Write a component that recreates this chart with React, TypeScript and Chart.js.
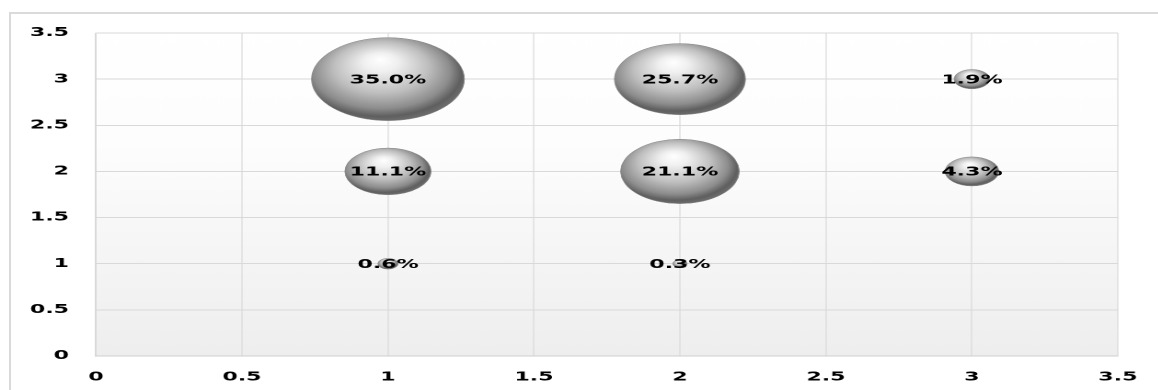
import React, { useEffect, useRef } from "react";
import { Chart, registerables } from "chart.js";

Chart.register(...registerables);

// ---- data ----
const xValues = [1, 2, 3, 1, 2, 3, 1, 2];
const yValues = [3, 3, 3, 2, 2, 2, 1, 1];
const shares = [35.0, 25.7, 1.9, 11.1, 21.1, 4.3, 0.6, 0.3];
const xTicks = [0, 0.5, 1, 1.5, 2, 2.5, 3, 3.5];
const yTicks = [0, 0.5, 1, 1.5, 2, 2.5, 3, 3.5];

// ---- layout / style constants ----
const STRETCH = 1.84;
const W = 1158 / STRETCH;
const H = 390;
const R_MAX = 41.5;
const FONT_FAMILY = '"DejaVu Sans", Verdana, sans-serif';

export default function App() {
  const canvasRef = useRef<HTMLCanvasElement | null>(null);

  useEffect(() => {
    const canvas = canvasRef.current;
    if (!canvas) return;
    const maxShare = Math.max(...shares);
    const points = shares.map((v, i) => ({
      x: xValues[i],
      y: yValues[i],
      r: R_MAX * Math.sqrt(v / maxShare),
      v,
    }));

    const plotBg = {
      id: "plotBg",
      beforeDraw(chart: any) {
        const { ctx, chartArea } = chart;
        if (!chartArea) return;
        const g = ctx.createLinearGradient(0, chartArea.top, 0, chartArea.bottom);
        g.addColorStop(0, "#ffffff");
        g.addColorStop(0.35, "#fdfdfd");
        g.addColorStop(1, "#eeeeee");
        ctx.save();
        ctx.fillStyle = g;
        ctx.fillRect(chartArea.left, chartArea.top, chartArea.right - chartArea.left, chartArea.bottom - chartArea.top);
        ctx.restore();
      },
    };

    const valueLabels = {
      id: "valueLabels",
      afterDatasetsDraw(chart: any) {
        const { ctx } = chart;
        const meta = chart.getDatasetMeta(0);
        ctx.save();
        ctx.font = `bold 12px ${FONT_FAMILY}`;
        ctx.textAlign = "center";
        ctx.textBaseline = "middle";
        ctx.fillStyle = "#000000";
        meta.data.forEach((el: any, i: number) => {
          ctx.fillText(shares[i].toFixed(1) + "%", el.x, el.y + 1);
        });
        ctx.restore();
      },
    };

    const bubbleFill = (c: any) => {
      const chart = c.chart;
      const raw = c.raw;
      if (!raw || !chart.scales || !chart.scales.x || !chart.scales.y) return "#aaaaaa";
      const cx = chart.scales.x.getPixelForValue(raw.x);
      const cy = chart.scales.y.getPixelForValue(raw.y);
      const r = Math.max(Number(raw.r) || 0, 0.5);
      if (!isFinite(cx) || !isFinite(cy) || !isFinite(r)) return "#aaaaaa";
      const g = chart.ctx.createRadialGradient(
        cx - 0.1 * r, cy - 0.48 * r, 0,
        cx - 0.08 * r, cy - 0.12 * r, 1.12 * r
      );
      g.addColorStop(0, "#ffffff");
      g.addColorStop(0.2, "#f0f0f0");
      g.addColorStop(0.55, "#bfbfbf");
      g.addColorStop(0.8, "#8d8d8d");
      g.addColorStop(0.93, "#5f5f5f");
      g.addColorStop(1, "#6c6c6c");
      return g;
    };

    const tickFont = { family: FONT_FAMILY, size: 12, weight: "bold" as const };

    const chart = new Chart(canvas, {
      type: "bubble",
      data: {
        datasets: [
          {
            label: "share",
            data: points as any,
            backgroundColor: bubbleFill as any,
            borderColor: "#8a8a8a",
            borderWidth: 0.5,
          },
        ],
      },
      options: {
        animation: false,
        responsive: true,
        maintainAspectRatio: false,
        devicePixelRatio: 2,
        layout: {
          autoPadding: false,
          padding: { top: 33, right: W - 1118 / STRETCH, left: 0, bottom: 0 },
        },
        plugins: {
          legend: { display: false },
          tooltip: { enabled: false },
        },
        scales: {
          x: {
            type: "linear",
            min: 0,
            max: 3.5,
            afterBuildTicks: (s: any) => {
              s.ticks = xTicks.map((v) => ({ value: v }));
            },
            afterFit: (s: any) => {
              s.height = H - 356;
              s.paddingLeft = 0;
              s.paddingRight = 0;
            },
            grid: { color: "#d9d9d9", lineWidth: 0.6, drawTicks: false },
            border: { display: true, color: "#cfcfcf", width: 1 },
            ticks: {
              color: "#000000",
              font: tickFont,
              padding: 14,
              maxRotation: 0,
              autoSkip: false,
              callback: (v: any) => String(v),
            },
          },
          y: {
            type: "linear",
            min: 0,
            max: 3.5,
            afterBuildTicks: (s: any) => {
              s.ticks = yTicks.map((v) => ({ value: v }));
            },
            afterFit: (s: any) => {
              s.width = 96 / STRETCH;
              s.paddingTop = 0;
              s.paddingBottom = 0;
            },
            grid: { color: "#d9d9d9", lineWidth: 1, drawTicks: false },
            border: { display: true, color: "#cfcfcf", width: 0.6 },
            ticks: {
              color: "#000000",
              font: tickFont,
              padding: 14.7,
              autoSkip: false,
              callback: (v: any) => String(v),
            },
          },
        },
      },
      plugins: [plotBg, valueLabels],
    });

    return () => chart.destroy();
  }, []);

  return (
    <div
      style={{
        position: "absolute",
        left: 0,
        top: 0,
        width: 1158,
        height: H,
        overflow: "hidden",
        background: "#ffffff",
      }}
    >
      <div
        style={{
          position: "absolute",
          left: 9,
          top: 12,
          width: 1170,
          height: 400,
          borderTop: "2px solid #dadada",
          borderLeft: "2px solid #dadada",
          boxSizing: "border-box",
        }}
      />
      <div
        style={{
          position: "absolute",
          left: 0,
          top: 0,
          width: W,
          height: H,
          transform: `scaleX(${STRETCH})`,
          transformOrigin: "0 0",
        }}
      >
        <canvas ref={canvasRef} />
      </div>
    </div>
  );
}
